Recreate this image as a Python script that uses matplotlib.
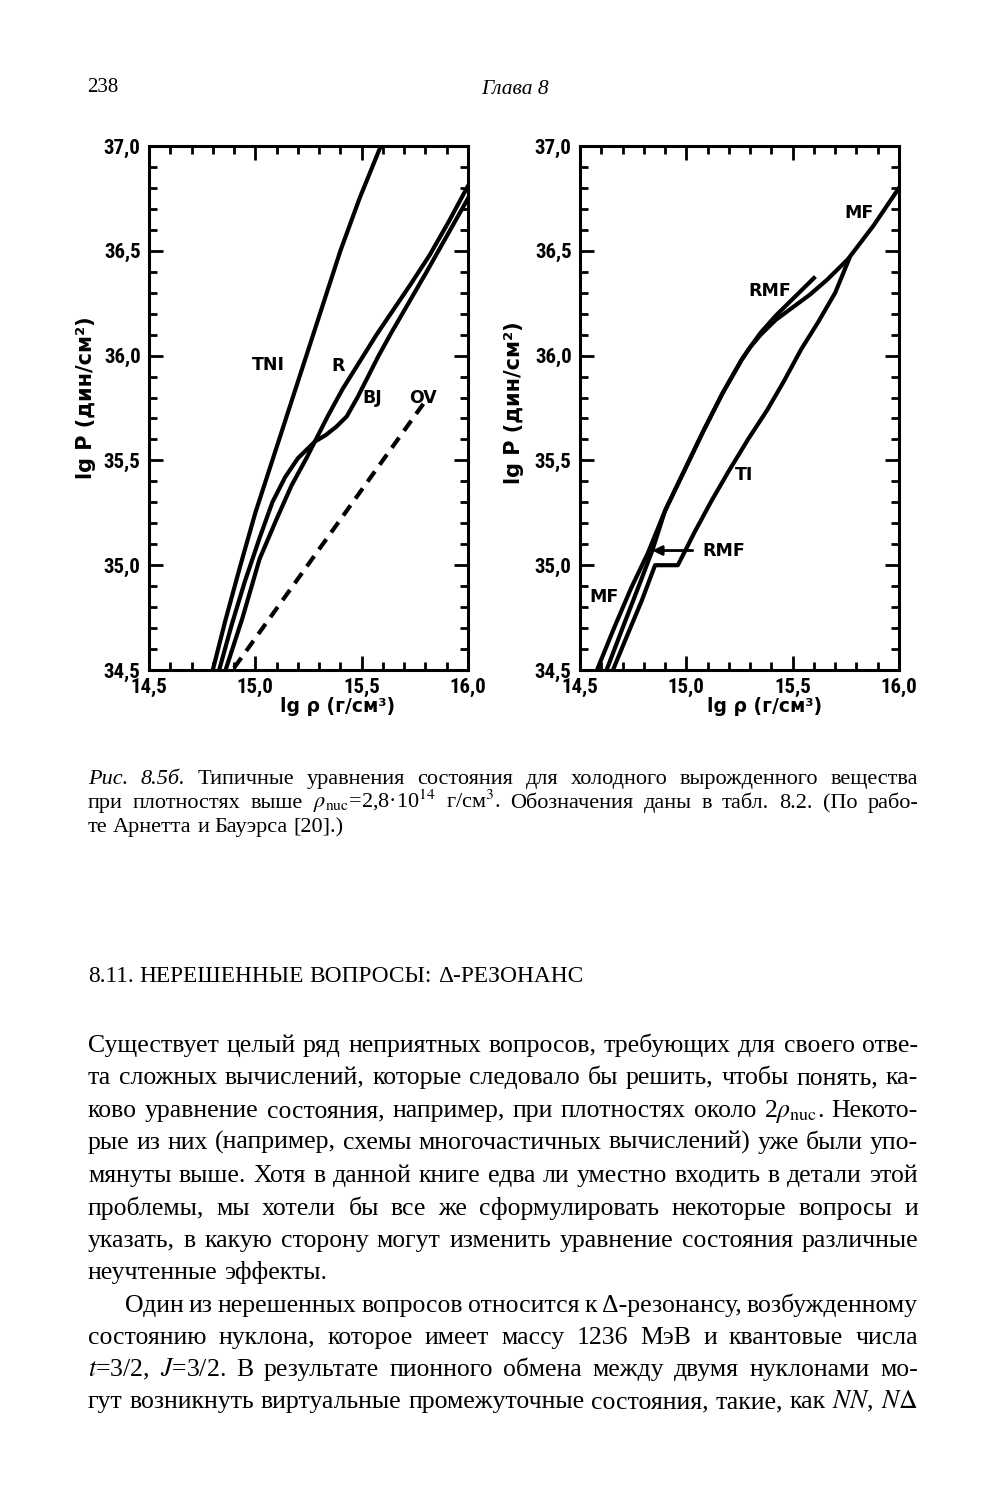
import matplotlib
matplotlib.use('Agg')
import matplotlib.pyplot as plt
from matplotlib import font_manager as fm
from matplotlib.ticker import MultipleLocator, FuncFormatter

# ---------------- data ----------------
# left panel
tni_x = [14.80, 14.86, 14.93, 15.00, 15.08, 15.16, 15.24, 15.32, 15.40, 15.49, 15.59]
tni_y = [34.50, 34.74, 35.00, 35.25, 35.50, 35.75, 36.00, 36.25, 36.50, 36.75, 37.00]

r_x = [14.86, 14.94, 15.02, 15.10, 15.17, 15.24, 15.28, 15.34, 15.41, 15.49, 15.57, 15.65, 15.73, 15.82, 15.91, 16.00]
r_y = [34.50, 34.75, 35.03, 35.22, 35.38, 35.51, 35.59, 35.71, 35.84, 35.97, 36.10, 36.22, 36.34, 36.48, 36.64, 36.81]

bj_x = [14.83, 14.89, 14.95, 15.02, 15.08, 15.14, 15.20, 15.25, 15.28, 15.33, 15.38, 15.43, 15.48, 15.53, 15.58, 15.64, 15.72, 15.80, 15.90, 16.00]
bj_y = [34.50, 34.72, 34.92, 35.13, 35.30, 35.42, 35.51, 35.56, 35.59, 35.62, 35.66, 35.71, 35.80, 35.90, 36.00, 36.11, 36.25, 36.39, 36.57, 36.75]

ov_x = [14.90, 15.79]
ov_y = [34.51, 35.77]

# right panel
mf_x = [14.58, 14.66, 14.74, 14.82, 14.90, 14.99, 15.08, 15.17, 15.26, 15.30, 15.35, 15.42, 15.50, 15.58, 15.66, 15.76, 15.88, 16.00]
mf_y = [34.50, 34.70, 34.89, 35.06, 35.26, 35.45, 35.64, 35.82, 35.98, 36.04, 36.10, 36.17, 36.23, 36.29, 36.36, 36.46, 36.62, 36.80]

rmf_x = [14.625, 14.70, 14.78, 14.84, 14.90, 14.99, 15.08, 15.17, 15.26, 15.30, 15.35, 15.42, 15.50, 15.60]
rmf_y = [34.50, 34.70, 34.91, 35.07, 35.26, 35.45, 35.64, 35.82, 35.98, 36.04, 36.11, 36.19, 36.27, 36.37]

ti_x = [14.655, 14.72, 14.79, 14.853, 14.96, 15.04, 15.12, 15.20, 15.29, 15.38, 15.46, 15.54, 15.62, 15.70, 15.765]
ti_y = [34.50, 34.66, 34.83, 35.00, 35.00, 35.16, 35.31, 35.45, 35.60, 35.74, 35.88, 36.03, 36.16, 36.30, 36.46]

left_labels = [("TNI", 15.06, 35.955), ("R", 15.39, 35.95), ("BJ", 15.55, 35.80), ("OV", 15.79, 35.80)]
right_labels = [("MF", 15.81, 36.68), ("RMF", 15.39, 36.31), ("TI", 15.27, 35.43),
                ("RMF", 15.175, 35.068), ("MF", 14.613, 34.85)]

x_label = "lg ρ (г/см³)"
y_label = "lg P (дин/см²)"

page_number = "238"
page_title = "Глава 8"

caption_lines = [
    "~Рис. ~8.5б. Типичные уравнения состояния для холодного вырожденного вещества",
    "при плотностях выше $\\rho_{\\mathrm{nuc}}$=2,8·10$^{14}$ г/см$^3$. Обозначения даны в табл. 8.2. (По рабо-",
    "те Арнетта и Бауэрса [20].)",
]
heading = "8.11. НЕРЕШЕННЫЕ ВОПРОСЫ: Δ-РЕЗОНАНС"
body_lines = [
    "Существует целый ряд неприятных вопросов, требующих для своего отве-",
    "та сложных вычислений, которые следовало бы решить, чтобы понять, ка-",
    "ково уравнение состояния, например, при плотностях около 2$\\rho_{\\mathrm{nuc}}$. Некото-",
    "рые из них (например, схемы многочастичных вычислений) уже были упо-",
    "мянуты выше. Хотя в данной книге едва ли уместно входить в детали этой",
    "проблемы, мы хотели бы все же сформулировать некоторые вопросы и",
    "указать, в какую сторону могут изменить уравнение состояния различные",
    "неучтенные эффекты.",
    "Один из нерешенных вопросов относится к Δ-резонансу, возбужденному",
    "состоянию нуклона, которое имеет массу 1236 МэВ и квантовые числа",
    "$t$=3/2, $J$=3/2. В результате пионного обмена между двумя нуклонами мо-",
    "гут возникнуть виртуальные промежуточные состояния, такие, как $NN$, $N\\Delta$",
]

# ---------------- fonts ----------------
avail = {f.name for f in fm.fontManager.ttflist}
def pick(*names):
    for n in names:
        if n in avail:
            return n
    return 'DejaVu Sans'
SANS = pick('Liberation Sans Narrow', 'DejaVu Sans Condensed', 'Roboto Condensed', 'Liberation Sans')
SERIF = pick('Liberation Serif', 'DejaVu Serif')

plt.rcParams['font.family'] = [SANS, 'DejaVu Sans']
plt.rcParams['mathtext.fontset'] = 'stix'

W, H = 994, 1500
fig = plt.figure(figsize=(W / 100, H / 100), dpi=100)
fig.patch.set_facecolor('white')

def add_axes_px(x0, y0, x1, y1):
    return fig.add_axes([x0 / W, 1 - y1 / H, (x1 - x0) / W, (y1 - y0) / H])

axL = add_axes_px(149, 146, 468, 670)
axR = add_axes_px(580, 146, 899, 670)

fmt = FuncFormatter(lambda v, p: f"{v:.1f}".replace('.', ','))
LW = 3.0
for ax in (axL, axR):
    ax.set_xlim(14.5, 16.0)
    ax.set_ylim(34.5, 37.0)
    ax.xaxis.set_major_locator(MultipleLocator(0.5))
    ax.xaxis.set_minor_locator(MultipleLocator(0.1))
    ax.yaxis.set_major_locator(MultipleLocator(0.5))
    ax.yaxis.set_minor_locator(MultipleLocator(0.1))
    ax.xaxis.set_major_formatter(fmt)
    ax.yaxis.set_major_formatter(fmt)
    ax.tick_params(which='both', direction='in', top=True, right=True, width=2.0, color='black')
    ax.tick_params(which='major', length=10, labelsize=15, pad=6)
    ax.tick_params(which='minor', length=6)
    for s in ax.spines.values():
        s.set_linewidth(2.2)
    ax.set_xlabel(x_label, fontsize=13.5, fontweight='bold', family=['DejaVu Sans'])
    ax.set_ylabel(y_label, fontsize=15, fontweight='bold', family=['DejaVu Sans'])
    for tk in ax.xaxis.get_major_ticks() + ax.yaxis.get_major_ticks():
        tk.label1.set_fontweight('bold')

# special placement of the corner label
for ax in (axL, axR):
    ax.yaxis.get_major_ticks()[0].label1.set_verticalalignment('bottom')

axL.xaxis.set_label_coords(0.59, -0.052)
axR.xaxis.set_label_coords(0.577, -0.052)
axL.yaxis.set_label_coords(-0.165, 0.52)
axR.yaxis.set_label_coords(-0.175, 0.51)

# curves
axL.plot(tni_x, tni_y, color='black', lw=LW)
axL.plot(r_x, r_y, color='black', lw=LW)
axL.plot(bj_x, bj_y, color='black', lw=LW)
axL.plot(ov_x, ov_y, color='black', lw=LW, dashes=(3.0, 2.0))

axR.plot(mf_x, mf_y, color='black', lw=LW)
axR.plot(rmf_x, rmf_y, color='black', lw=LW)
axR.plot(ti_x, ti_y, color='black', lw=LW)

for t, x, y in left_labels:
    axL.text(x, y, t, ha='center', va='center', fontsize=12.5, fontweight='bold', family=['DejaVu Sans'])
for t, x, y in right_labels:
    axR.text(x, y, t, ha='center', va='center', fontsize=12.5, fontweight='bold', family=['DejaVu Sans'])

axR.annotate('', xy=(14.84, 35.07), xytext=(15.03, 35.07),
             arrowprops=dict(arrowstyle='-|>', lw=2.0, color='black', mutation_scale=14,
                             shrinkA=0, shrinkB=0))

# ---------------- page text ----------------
renderer = fig.canvas.get_renderer()
SERIF_LIST = [SERIF, 'DejaVu Serif']

def mk(word, size, y_px, style='normal', weight='normal'):
    return fig.text(0, 1 - y_px / H, word, fontsize=size, family=SERIF_LIST,
                    style=style, fontweight=weight, va='baseline', ha='left', color='black')

def place_line(text, y_px, x0, x1, size, justify=True):
    words = text.split(' ')
    objs, widths = [], []
    for w in words:
        style = 'normal'
        if w.startswith('~'):
            w = w[1:]
            style = 'italic'
        t = mk(w, size, y_px, style=style)
        objs.append(t)
        widths.append(t.get_window_extent(renderer).width)
    space = 0.25 * size * 100 / 72
    if justify and len(words) > 1:
        gap = (x1 - x0 - sum(widths)) / (len(words) - 1)
    else:
        gap = space
    x = x0
    for t, wd in zip(objs, widths):
        t.set_x(x / W)
        x += wd + gap
    return x - gap

# header
mk(page_number, 15, 92).set_x(87 / W)
fig.text(515 / W, 1 - 94 / H, page_title, fontsize=15.5, family=SERIF_LIST,
         style='italic', va='baseline', ha='center', color='black')

# caption
cap_y = [784, 808, 832]
for i, (line, y) in enumerate(zip(caption_lines, cap_y)):
    place_line(line, y, 88, 918, 16, justify=(i < len(caption_lines) - 1))

# heading: size fitted to the measured width in the picture
probe = mk(heading, 15, 982)
hw = probe.get_window_extent(renderer).width
probe.remove()
place_line(heading, 982, 88, 585, 15 * (585 - 88) / hw, justify=False)

# body
body_y = [1052, 1084, 1117, 1149, 1182, 1215, 1247, 1279, 1312, 1344, 1376, 1408]
for i, (line, y) in enumerate(zip(body_lines, body_y)):
    x0 = 125 if i == 8 else 88
    place_line(line, y, x0, 918, 18.5, justify=(i != 7))

fig.savefig('out.png', dpi=100, facecolor='white')
